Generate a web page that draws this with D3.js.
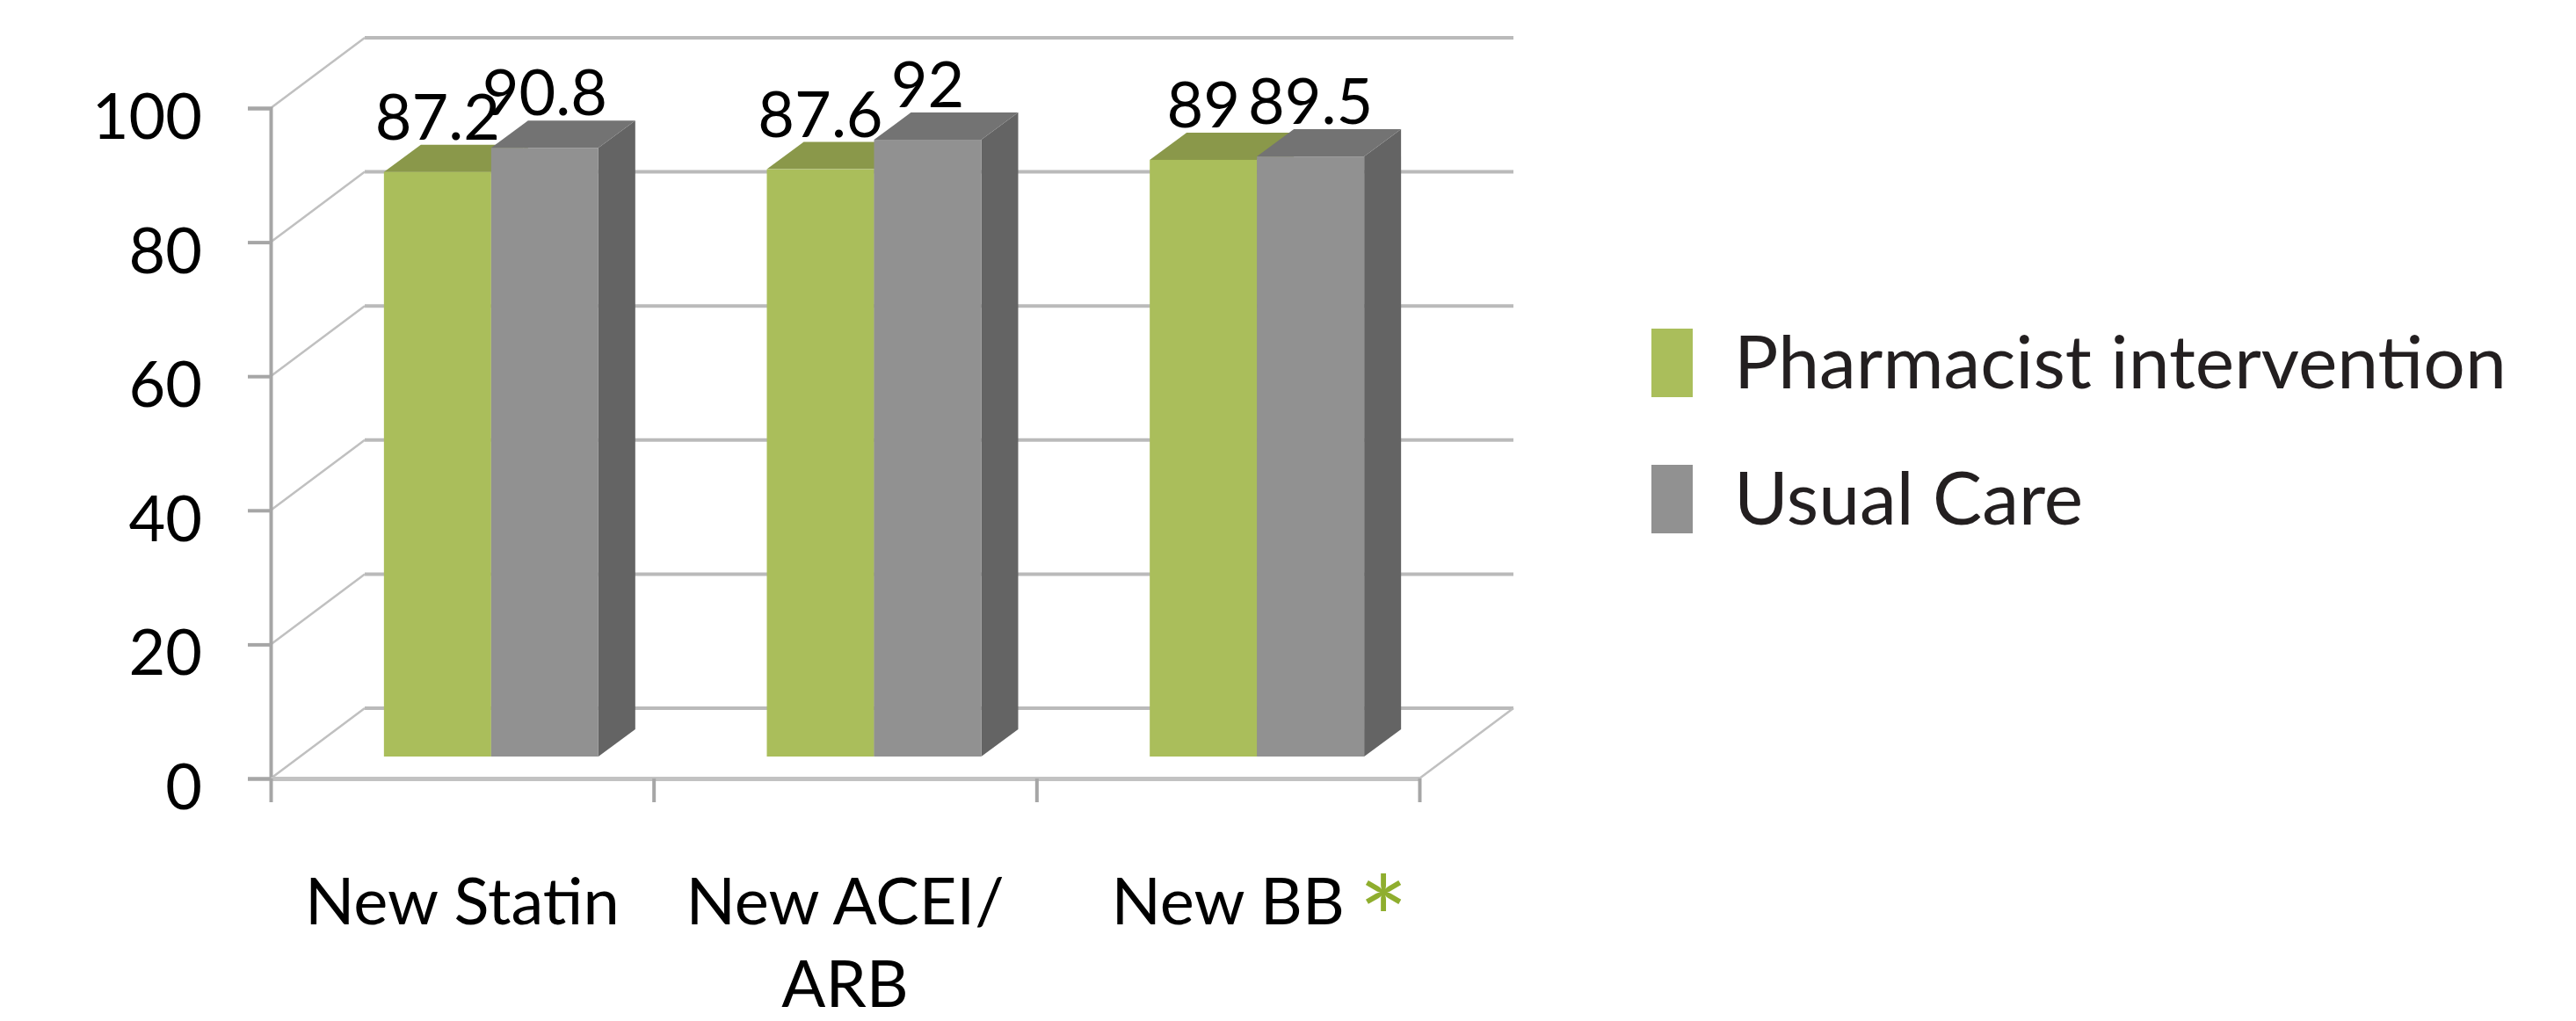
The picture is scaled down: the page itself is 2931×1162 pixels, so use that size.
<!DOCTYPE html>
<html>
<head>
<meta charset="utf-8">
<script src="https://cdn.jsdelivr.net/npm/d3@7"></script>
<style>
  html, body { margin: 0; padding: 0; background: #ffffff; }
  svg { display: block; }
  text { font-family: Lato, "Open Sans", sans-serif; fill: #000; }
</style>
</head>
<body>
<svg id="chart" width="2931" height="1162"></svg>
<script>
// Data
const categories = ["New Statin", "New ACEI/ARB", "New BB"];
const categoryLines = [["New Statin"], ["New ACEI/", "ARB"], ["New BB"]];
const significant = [false, false, true];
const seriesNames = ["Pharmacist intervention", "Usual Care"];
const pharmacist = [87.2, 87.6, 89];
const usualCare = [90.8, 92, 89.5];
const yTicks = [0, 20, 40, 60, 80, 100];

// Styling
const faceColors = ["#aabe5b", "#919191"];
const topColors = ["#8a984a", "#737373"];
const sideColors = ["#7f8c44", "#646464"];
const gridColor = "#bababa";
const axisColor = "#a6a6a6";
const starColor = "#8fae2e";

// Oblique projection: wall depth and bar placement within the depth
const wallDx = 107, wallDy = -80;
const barOffDx = 33, barOffDy = -25;
const barDepthDx = 42, barDepthDy = -31;

const svg = d3.select("#chart");

const x = d3.scaleBand()
  .domain(categories)
  .range([308, 1615])
  .paddingInner(0.44)
  .paddingOuter(0.22);

const x1 = d3.scaleBand()
  .domain(seriesNames)
  .range([0, x.bandwidth()]);

const y = d3.scaleLinear().domain([0, 100]).range([886, 123]);

const xEdges = d3.scaleLinear().domain([0, categories.length]).range(x.range());

// Back wall gridlines
const grid = svg.append("g");
grid.selectAll("line.back")
  .data(yTicks)
  .join("line")
  .attr("x1", x.range()[0] + wallDx)
  .attr("x2", x.range()[1] + wallDx)
  .attr("y1", d => y(d) + wallDy)
  .attr("y2", d => y(d) + wallDy)
  .attr("stroke", gridColor)
  .attr("stroke-width", 4);

// Side wall diagonals
grid.selectAll("line.side")
  .data(yTicks)
  .join("line")
  .attr("x1", x.range()[0])
  .attr("x2", x.range()[0] + wallDx)
  .attr("y1", d => y(d))
  .attr("y2", d => y(d) + wallDy)
  .attr("stroke", "#c0c0c0")
  .attr("stroke-width", 2.5);

// Floor right edge
grid.append("line")
  .attr("x1", x.range()[1])
  .attr("x2", x.range()[1] + wallDx)
  .attr("y1", y(0))
  .attr("y2", y(0) + wallDy)
  .attr("stroke", "#c0c0c0")
  .attr("stroke-width", 2.5);

// Axes
const yAxis = d3.axisLeft(y)
  .tickValues(yTicks)
  .tickSize(26)
  .tickPadding(52);

const yG = svg.append("g")
  .attr("transform", `translate(${x.range()[0]},0)`)
  .call(yAxis);
yG.select(".domain").attr("stroke", axisColor).attr("stroke-width", 4);
yG.selectAll(".tick line").attr("stroke", axisColor).attr("stroke-width", 4);
yG.selectAll(".tick text")
  .attr("font-size", 72)
  .attr("font-family", "Lato, 'Open Sans', sans-serif")
  .attr("fill", "#000")
  .attr("dy", "0.48em");

const xAxis = d3.axisBottom(xEdges)
  .tickValues(d3.range(categories.length + 1))
  .tickSize(27)
  .tickSizeOuter(0)
  .tickFormat("");

const xG = svg.append("g")
  .attr("transform", `translate(0,${y(0)})`)
  .call(xAxis);
xG.select(".domain").attr("stroke", "#c2c2c2").attr("stroke-width", 5);
xG.selectAll(".tick line").attr("stroke", axisColor).attr("stroke-width", 4);

// Bars
const barData = [];
categories.forEach((c, i) => {
  [pharmacist[i], usualCare[i]].forEach((v, j) => {
    barData.push({ cat: c, series: seriesNames[j], si: j, value: v });
  });
});

const bars = svg.append("g").selectAll("g.bar")
  .data(barData)
  .join("g");

bars.each(function(d) {
  const g = d3.select(this);
  const x0 = x(d.cat) + x1(d.series) + barOffDx;
  const w = x1.bandwidth();
  const yt = y(d.value) + barOffDy;
  const yb = y(0) + barOffDy;
  // right side face
  g.append("path")
    .attr("d", `M${x0 + w},${yt} L${x0 + w + barDepthDx},${yt + barDepthDy} L${x0 + w + barDepthDx},${yb + barDepthDy} L${x0 + w},${yb} Z`)
    .attr("fill", sideColors[d.si]);
  // top face
  g.append("path")
    .attr("d", `M${x0},${yt} L${x0 + barDepthDx},${yt + barDepthDy} L${x0 + w + barDepthDx},${yt + barDepthDy} L${x0 + w},${yt} Z`)
    .attr("fill", topColors[d.si]);
  // front face
  g.append("rect")
    .attr("x", x0)
    .attr("y", yt)
    .attr("width", w)
    .attr("height", yb - yt)
    .attr("fill", faceColors[d.si]);
});

// Value labels
svg.append("g").selectAll("text")
  .data(barData)
  .join("text")
  .attr("x", d => x(d.cat) + x1(d.series) + barOffDx + x1.bandwidth() / 2)
  .attr("y", d => y(d.value) + barOffDy - 37)
  .attr("text-anchor", "middle")
  .attr("font-size", 72)
  .text(d => d.value);

// Glyph metrics for placing the significance marker
const measureCtx = document.createElement("canvas").getContext("2d");
function glyphBox(str, size) {
  measureCtx.font = `${size}px Lato`;
  const m = measureCtx.measureText(str);
  return {
    left: m.actualBoundingBoxLeft,
    right: m.actualBoundingBoxRight,
    ascent: m.actualBoundingBoxAscent,
    descent: m.actualBoundingBoxDescent
  };
}

// Category labels
const catG = svg.append("g");
const catSize = 74;
categories.forEach((c, i) => {
  const cx = x(c) + x.bandwidth() / 2;
  const t = catG.append("text")
    .attr("x", cx)
    .attr("y", 1052)
    .attr("text-anchor", "middle")
    .attr("font-size", catSize);
  categoryLines[i].forEach((line, k) => {
    t.append("tspan")
      .attr("x", cx)
      .attr("y", 1052 + k * 94)
      .text(line);
  });
  if (significant[i]) {
    const w = t.node().getComputedTextLength();
    // asterisk glyph about 44px tall, its top level with the cap height
    const ref = glyphBox("*", 100);
    const size = 100 * 44 / (ref.ascent + ref.descent);
    const gb = glyphBox("*", size);
    const left = cx + w / 2 + 24;
    catG.append("text")
      .attr("x", left + gb.left)
      .attr("y", 993 + gb.ascent)
      .attr("font-size", size)
      .style("fill", starColor)
      .text("*");
  }
});

// Legend
const legend = svg.append("g");
seriesNames.forEach((name, i) => {
  const top = [374, 529][i];
  legend.append("rect")
    .attr("x", 1879)
    .attr("y", top)
    .attr("width", 47)
    .attr("height", 78)
    .attr("fill", faceColors[i]);
  legend.append("text")
    .attr("x", 1973)
    .attr("y", top + 68)
    .attr("font-size", 84)
    .style("fill", "#231f20")
    .text(name);
});
</script>
</body>
</html>
